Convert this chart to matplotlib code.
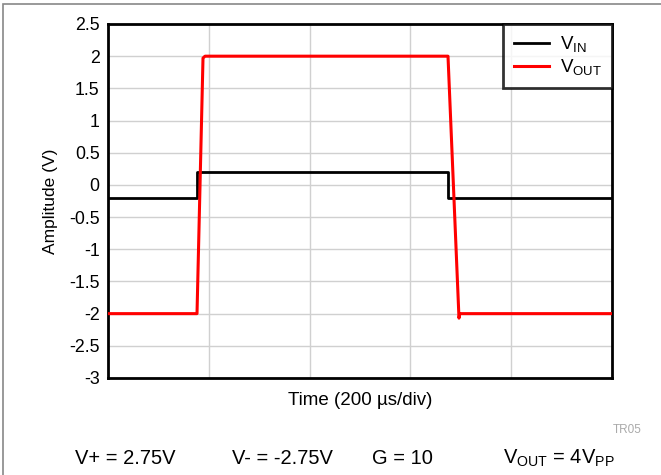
import matplotlib
matplotlib.use("Agg")
import matplotlib.pyplot as plt
from matplotlib.patches import Rectangle

plt.rcParams['font.family'] = ['Liberation Sans', 'DejaVu Sans']

# Data (time in µs, amplitude in V)
vin_t = [0, 176.6, 176.6, 674.6, 674.6, 1000]
vin_v = [-0.2, -0.2, 0.2, 0.2, -0.2, -0.2]
vout_t = [0, 176.6, 188.5, 192.5, 674.6, 696.4, 698.0, 700.4, 1000]
vout_v = [-2.0, -2.0, 1.97, 2.0, 2.0, -2.07, -2.0, -2.0, -2.0]
yticks = [-3, -2.5, -2, -1.5, -1, -0.5, 0, 0.5, 1, 1.5, 2, 2.5]
ytick_labels = ['-3', '-2.5', '-2', '-1.5', '-1', '-0.5', '0', '0.5', '1', '1.5', '2', '2.5']
xgrid = [200, 400, 600, 800]

fig = plt.figure(figsize=(6.61, 4.75), dpi=100)
fig.patches.append(Rectangle((3/661, -0.05), 1.1, 1 - 4/475 + 0.05, transform=fig.transFigure,
                             fill=False, edgecolor='#888888', linewidth=1.2))
ax = fig.add_axes([108/661, 1 - 378/475, (612 - 108)/661, (378 - 24)/475])

ax.plot(vin_t, vin_v, color='black', linewidth=2, label='V$_{\\mathregular{IN}}$', zorder=3)
ax.plot(vout_t, vout_v, color='#ff0000', linewidth=2.2, label='V$_{\\mathregular{OUT}}$', zorder=4)

ax.set_xlim(0, 1000)
ax.set_ylim(-3, 2.5)
ax.set_yticks(yticks)
ax.set_yticklabels(ytick_labels)
ax.set_xticks(xgrid)
ax.set_xticklabels([])
ax.tick_params(axis='both', length=0, labelsize=12.8, pad=6)
ax.grid(True, color='#d0d0d0', linewidth=1)
ax.set_axisbelow(True)
for s in ax.spines.values():
    s.set_linewidth(2)
    s.set_color('black')

ax.set_ylabel('Amplitude (V)', fontsize=12.5, labelpad=8)
ax.set_xlabel('Time (200 µs/div)', fontsize=13.5, labelpad=4)

leg = ax.legend(loc='upper right', fontsize=13.5, frameon=True, fancybox=False,
                borderpad=0.55, handlelength=1.9, handletextpad=0.55, labelspacing=0.15,
                borderaxespad=0)
leg.get_frame().set_edgecolor('black')
leg.get_frame().set_linewidth(2)

fig.text(627/661, 1 - 430/475, 'TR05', fontsize=8.5, color='#aaaaaa', ha='center', va='center')
y_b = 1 - 458/475
fig.text(75/661, y_b, 'V+ = 2.75V', fontsize=14.5, ha='left', va='center')
fig.text(232/661, y_b, 'V- = -2.75V', fontsize=14.5, ha='left', va='center')
fig.text(372/661, y_b, 'G = 10', fontsize=14.5, ha='left', va='center')
fig.text(503/661, y_b, 'V$_{\\mathregular{OUT}}$ = 4V$_{\\mathregular{PP}}$', fontsize=14.5, ha='left', va='center')

fig.savefig('out.png', dpi=100)
